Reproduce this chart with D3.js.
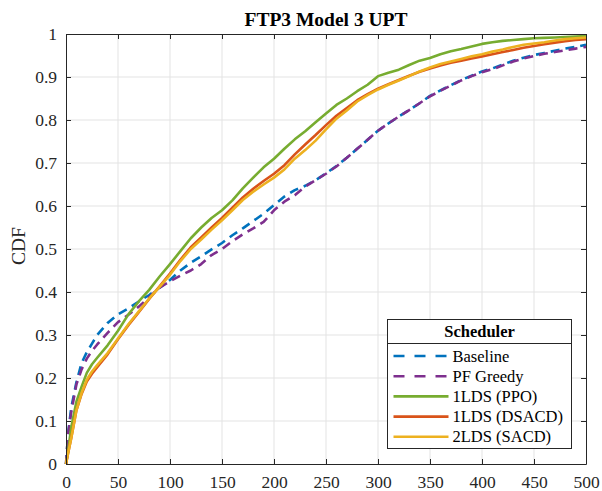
<!DOCTYPE html>
<html>
<head>
<meta charset="utf-8">
<script src="https://cdn.jsdelivr.net/npm/d3@7"></script>
<style>
  body { margin: 0; background: #fff; }
  svg { font-family: "Liberation Serif", "DejaVu Serif", serif; }
</style>
</head>
<body>
<div id="chart"></div>
<script>
const xs = [0, 2, 5, 10, 15, 20, 25, 30, 40, 50, 60, 70, 80, 90, 100, 110, 120, 130, 140, 150,
    160, 170, 180, 190, 200, 210, 220, 230, 240, 250, 260, 270, 280, 290, 300, 310, 320, 330,
    340, 350, 360, 370, 380, 390, 400, 410, 420, 430, 440, 450, 460, 470, 480, 490, 500];

const baseline = [0, 0.07, 0.13, 0.19, 0.235, 0.26, 0.28, 0.30, 0.328, 0.348, 0.362, 0.378, 0.393, 0.41, 0.428,
    0.45, 0.468, 0.483, 0.499, 0.514, 0.532, 0.548, 0.565, 0.582, 0.602, 0.622, 0.637, 0.647, 0.66, 0.676,
    0.693, 0.712, 0.733, 0.754, 0.775, 0.792, 0.808, 0.823, 0.839, 0.856, 0.869, 0.881, 0.893, 0.903, 0.913,
    0.92, 0.929, 0.938, 0.945, 0.951, 0.956, 0.961, 0.966, 0.97, 0.975];

const pfGreedy = [0, 0.07, 0.12, 0.185, 0.22, 0.245, 0.263, 0.278, 0.305, 0.33, 0.347, 0.366, 0.388, 0.41, 0.425,
    0.438, 0.45, 0.465, 0.486, 0.5, 0.518, 0.534, 0.548, 0.563, 0.59, 0.61, 0.625, 0.645, 0.66, 0.675,
    0.692, 0.712, 0.733, 0.754, 0.775, 0.792, 0.808, 0.823, 0.839, 0.855, 0.868, 0.88, 0.892, 0.902, 0.911,
    0.918, 0.927, 0.936, 0.943, 0.949, 0.954, 0.958, 0.962, 0.966, 0.97];

const ppo = [0, 0.03, 0.085, 0.145, 0.18, 0.212, 0.232, 0.247, 0.276, 0.31, 0.348, 0.378, 0.405, 0.436, 0.465,
    0.495, 0.525, 0.55, 0.572, 0.59, 0.613, 0.641, 0.666, 0.69, 0.71, 0.733, 0.755, 0.774, 0.795, 0.815,
    0.835, 0.85, 0.867, 0.882, 0.902, 0.91, 0.917, 0.928, 0.938, 0.944, 0.953, 0.96, 0.965, 0.971, 0.977,
    0.981, 0.984, 0.986, 0.988, 0.99, 0.991, 0.992, 0.993, 0.994, 0.995];

const dsacd = [0, 0.025, 0.06, 0.125, 0.163, 0.192, 0.21, 0.225, 0.255, 0.29, 0.323, 0.353, 0.384, 0.413, 0.443,
    0.475, 0.504, 0.527, 0.55, 0.572, 0.596, 0.62, 0.64, 0.658, 0.675, 0.695, 0.72, 0.743, 0.765, 0.788,
    0.81, 0.828, 0.846, 0.86, 0.873, 0.883, 0.893, 0.903, 0.912, 0.92, 0.927, 0.933, 0.938, 0.943, 0.948,
    0.953, 0.958, 0.963, 0.968, 0.972, 0.976, 0.98, 0.983, 0.986, 0.988];

const sacd = [0, 0.025, 0.06, 0.125, 0.165, 0.196, 0.215, 0.23, 0.258, 0.292, 0.325, 0.355, 0.385, 0.412, 0.44,
    0.472, 0.5, 0.522, 0.545, 0.567, 0.59, 0.614, 0.633, 0.65, 0.666, 0.685, 0.71, 0.73, 0.752, 0.778,
    0.803, 0.822, 0.843, 0.858, 0.871, 0.882, 0.892, 0.902, 0.913, 0.922, 0.93, 0.936, 0.942, 0.948, 0.953,
    0.959, 0.964, 0.97, 0.975, 0.978, 0.981, 0.985, 0.988, 0.99, 0.992];

const seriesNames = ["Baseline", "PF Greedy", "1LDS (PPO)", "1LDS (DSACD)", "2LDS (SACD)"];
const seriesColors = ["#0072BD", "#7E2F8E", "#77AC30", "#D95319", "#EDB120"];
const seriesDashed = [true, true, false, false, false];
const seriesValues = [baseline, pfGreedy, ppo, dsacd, sacd];

const xTicks = [0, 50, 100, 150, 200, 250, 300, 350, 400, 450, 500];
const yTicks = [0, 0.1, 0.2, 0.3, 0.4, 0.5, 0.6, 0.7, 0.8, 0.9, 1];

const w = 602, h = 491;
const margin = {top: 34, right: 16, bottom: 27, left: 66};
const axColor = "#262626";

const svg = d3.select("#chart").append("svg")
    .attr("width", w)
    .attr("height", h);

const x = d3.scaleLinear().domain([0, 500]).range([margin.left, w - margin.right]);
const y = d3.scaleLinear().domain([0, 1]).range([h - margin.bottom, margin.top]);

// grid
const grid = svg.append("g").attr("stroke", "#e3e3e3").attr("stroke-width", 1);
grid.selectAll("line.gx").data(xTicks.slice(1, -1)).enter().append("line")
    .attr("x1", d => x(d)).attr("x2", d => x(d))
    .attr("y1", y(0)).attr("y2", y(1));
grid.selectAll("line.gy").data(yTicks.slice(1, -1)).enter().append("line")
    .attr("x1", x(0)).attr("x2", x(500))
    .attr("y1", d => y(d)).attr("y2", d => y(d));

// curves
const line = d3.line()
    .x((d, i) => x(xs[i]))
    .y(d => y(d));

seriesValues.forEach(function (vals, k) {
    svg.append("path")
        .datum(vals)
        .attr("fill", "none")
        .attr("stroke", seriesColors[k])
        .attr("stroke-width", 2.6)
        .attr("stroke-dasharray", seriesDashed[k] ? "9,6" : null)
        .attr("stroke-linejoin", "round")
        .attr("d", line);
});

// axes (box with inward ticks, MATLAB style)
const tickLen = 5;
const xAxisB = d3.axisBottom(x).tickValues(xTicks).tickSizeInner(-tickLen).tickSizeOuter(0).tickPadding(12);
const xAxisT = d3.axisTop(x).tickValues(xTicks).tickSizeInner(-tickLen).tickSizeOuter(0).tickFormat("");
const yAxisL = d3.axisLeft(y).tickValues(yTicks).tickSizeInner(-tickLen).tickSizeOuter(0).tickPadding(9)
    .tickFormat(d => d3.format("")(+d.toFixed(1)));
const yAxisR = d3.axisRight(y).tickValues(yTicks).tickSizeInner(-tickLen).tickSizeOuter(0).tickFormat("");

function styleAxis(g) {
    g.select(".domain").attr("stroke", axColor);
    g.selectAll(".tick line").attr("stroke", axColor);
    g.selectAll(".tick text")
        .attr("fill", axColor)
        .style("font-family", "Liberation Serif")
        .style("font-size", "17.5px");
}

svg.append("g").attr("transform", "translate(0," + y(0) + ")").call(xAxisB).call(styleAxis);
svg.append("g").attr("transform", "translate(0," + y(1) + ")").call(xAxisT).call(styleAxis);
svg.append("g").attr("transform", "translate(" + x(0) + ",0)").call(yAxisL).call(styleAxis);
svg.append("g").attr("transform", "translate(" + x(500) + ",0)").call(yAxisR).call(styleAxis);

// title and label
svg.append("text")
    .attr("x", (x(0) + x(500)) / 2)
    .attr("y", 26)
    .attr("text-anchor", "middle")
    .attr("font-weight", "bold")
    .attr("font-size", "19.5px")
    .attr("fill", "#000")
    .text("FTP3 Model 3 UPT");

svg.append("text")
    .attr("transform", "translate(25,246) rotate(-90)")
    .attr("text-anchor", "middle")
    .attr("font-size", "19.5px")
    .attr("fill", axColor)
    .text("CDF");

// legend
const lg = svg.append("g").attr("transform", "translate(387.5,319.5)");
const lgW = 184, lgH = 129, rowH = 20.2;
lg.append("rect")
    .attr("width", lgW).attr("height", lgH)
    .attr("fill", "#fff")
    .attr("stroke", axColor).attr("stroke-width", 1);
lg.append("line")
    .attr("x1", 0).attr("x2", lgW)
    .attr("y1", 24).attr("y2", 24)
    .attr("stroke", axColor);
lg.append("text")
    .attr("x", lgW / 2).attr("y", 17.5)
    .attr("text-anchor", "middle")
    .attr("font-weight", "bold")
    .attr("font-size", "16.5px")
    .attr("fill", "#000")
    .text("Scheduler");

const rows = lg.selectAll("g.row").data(seriesNames).enter().append("g")
    .attr("transform", (d, i) => "translate(0," + (36.5 + i * rowH) + ")");
rows.append("line")
    .attr("x1", 6).attr("x2", 61)
    .attr("stroke", (d, i) => seriesColors[i])
    .attr("stroke-width", 2.6)
    .attr("stroke-dasharray", (d, i) => seriesDashed[i] ? "11,10" : null);
rows.append("text")
    .attr("x", 65).attr("y", 5.5)
    .attr("font-size", "16.5px")
    .attr("fill", "#000")
    .text(d => d);
</script>
</body>
</html>
